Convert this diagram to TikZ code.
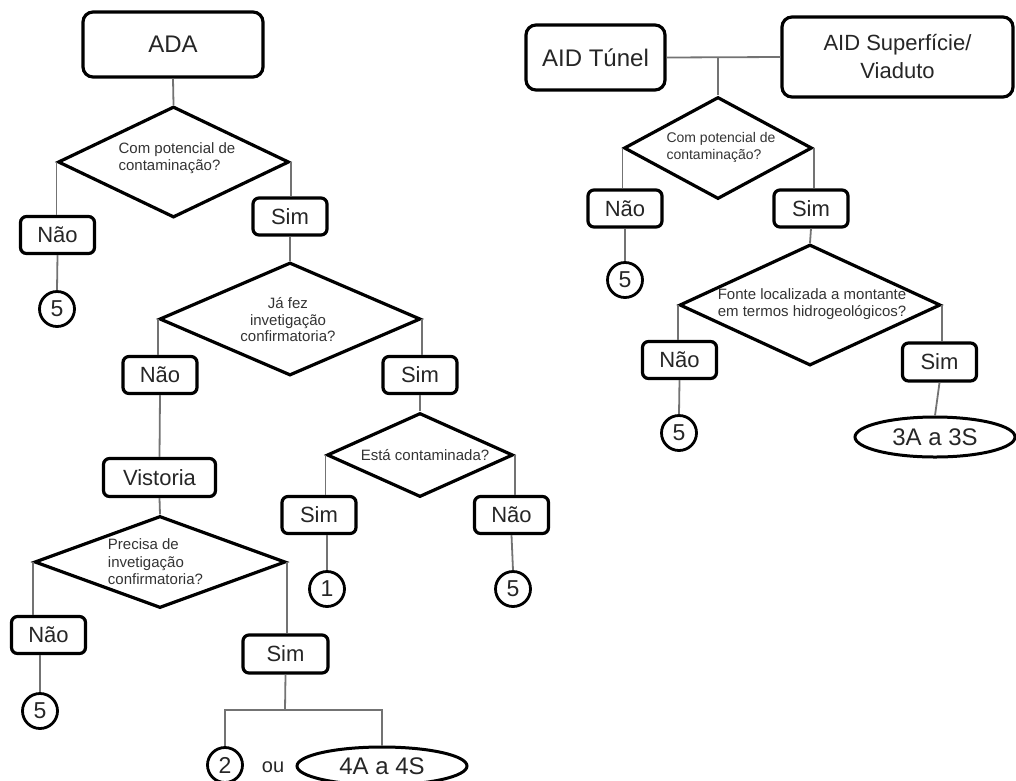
\documentclass[tikz,border=0pt]{standalone}
\usepackage{fontspec}
\setmainfont{Liberation Sans}
\usetikzlibrary{shapes.geometric}
\tikzset{
 box/.style={draw=black, line width=3.2, rounded corners=6, fill=white, inner sep=0, minimum width=74, minimum height=37, font=\fontsize{22}{24}\selectfont, text=black!85},
 bigbox/.style={box, rounded corners=10, font=\fontsize{24}{27}\selectfont},
 dia/.style={draw=black, line width=3.2, diamond, inner sep=0},
 dtext/.style={font=\fontsize{15}{16.5}\selectfont, text=black!80, inner sep=0},
 num/.style={draw=black, circle, line width=2.8, minimum size=35, inner sep=0, font=\fontsize{23}{25}\selectfont, text=black!85},
 oval/.style={draw=black, ellipse, line width=3, inner sep=0, font=\fontsize{24}{27}\selectfont, text=black!85},
 con/.style={draw=black!55, line width=1.8},
}
\begin{document}
\begin{tikzpicture}[x=1pt,y=-1pt]
\useasboundingbox (0,0) rectangle (1016,780);
% ---- left tree (ADA)
\node[bigbox, minimum width=180, minimum height=65] (ada) at (173,44.5) {ADA};
\node[dia, minimum width=231, minimum height=111] (d1) at (173.5,162) {};
\node[dtext, align=left] (d1t) at (177,158) {Com potencial de\\contaminação?};
\node[box] (n1) at (57.5,235) {Não};
\node[box] (s1) at (290,216.5) {Sim};
\node[num] (c1) at (57,309) {5};
\node[dia, minimum width=261, minimum height=113] (d2) at (290,319) {};
\node[dtext, align=center] (d2t) at (288,320) {Já fez\\invetigação\\confirmatoria?};
\node[box] (n2) at (160,375) {Não};
\node[box] (s2) at (420,375) {Sim};
\node[box, minimum width=112, minimum height=38] (vi) at (159.5,477.5) {Vistoria};
\node[dia, minimum width=186, minimum height=84] (d3) at (420,455) {};
\node[dtext] (d3t) at (425,455) {Está contaminada?};
\node[box] (s3) at (319,515) {Sim};
\node[box] (n3) at (511.5,515) {Não};
\node[num] (c2) at (327,589) {1};
\node[num] (c3) at (513,589) {5};
\node[dia, minimum width=251, minimum height=92] (d4) at (160,562) {};
\node[dtext, align=left, font=\fontsize{15}{17.5}\selectfont] (d4t) at (155.5,562) {Precisa de\\invetigação\\confirmatoria?};
\node[box] (n4) at (48.5,635) {Não};
\node[num] (c4) at (40,711) {5};
\node[box, minimum width=85, minimum height=38] (s4) at (285.5,654) {Sim};
\coordinate (j4) at (285,710);
\node[num] (c5) at (225,765) {2};
\node[font=\fontsize{20}{22}\selectfont, text=black!85] (ou) at (273,767) {ou};
\node[oval, minimum width=170, minimum height=38] (e1) at (382,766) {4A a 4S};
\draw[con] (ada.south) -- (d1.north);
\draw[con] (d1.west) -- (d1.west |- n1.north);
\draw[con] (d1.east) -- (d1.east |- s1.north);
\draw[con] (n1.south) -- (c1.north);
\draw[con] (s1.south) -- (d2.north);
\draw[con] (d2.west) -- (d2.west |- n2.north);
\draw[con] (d2.east) -- (d2.east |- s2.north);
\draw[con] (n2.south) -- (vi.north);
\draw[con] (s2.south) -- (d3.north);
\draw[con] (d3.west) -- (d3.west |- s3.north);
\draw[con] (d3.east) -- (d3.east |- n3.north);
\draw[con] (c2.north |- s3.south) -- (c2.north);
\draw[con] (n3.south) -- (c3.north);
\draw[con] (vi.south) -- (d4.north);
\draw[con] (d4.west) -- (d4.west |- n4.north);
\draw[con] (d4.east) -- (d4.east |- s4.north);
\draw[con] (c4.north |- n4.south) -- (c4.north);
\draw[con] (s4.south) -- (j4);
\draw[con] (c5.north) -- (c5.north |- j4) -- (e1.north |- j4) -- (e1.north);
% ---- right tree (AID)
\node[bigbox, minimum width=139, minimum height=65] (tu) at (595.5,57.5) {AID Túnel};
\node[bigbox, minimum width=231, minimum height=80, align=center, font=\fontsize{22}{28}\selectfont] (sv) at (897.5,57) {AID Superfície/\\Viaduto};
\coordinate (jr) at (718,57);
\node[dia, minimum width=188, minimum height=102] (r1) at (718,148) {};
\node[dtext, align=left, font=\fontsize{14}{17}\selectfont] (r1t) at (721,147) {Com potencial de\\contaminação?};
\node[box] (rn1) at (625,208.5) {Não};
\node[box] (rs1) at (811,208.5) {Sim};
\node[num] (rc1) at (625,280) {5};
\node[dia, minimum width=261, minimum height=121] (r2) at (810,305) {};
\node[dtext, align=center, font=\fontsize{15}{17}\selectfont] (r2t) at (812,304.5) {Fonte localizada a montante\\em termos hidrogeológicos?};
\node[box] (rn2) at (679.5,360) {Não};
\node[box, minimum height=38] (rs2) at (939.5,362) {Sim};
\node[num] (rc2) at (679,433) {5};
\node[oval, minimum width=160, minimum height=40] (er) at (935,437) {3A a 3S};
\draw[con] (tu.east) -- (sv.west);
\draw[con] (jr) -- (r1.north);
\draw[con] (r1.west) -- (r1.west |- rn1.north);
\draw[con] (r1.east) -- (r1.east |- rs1.north);
\draw[con] (rn1.south) -- (rc1.north);
\draw[con] (rs1.south) -- (r2.north);
\draw[con] (r2.west) -- (r2.west |- rn2.north);
\draw[con] (r2.east) -- (r2.east |- rs2.north);
\draw[con] (rn2.south) -- (rc2.north);
\draw[con] (rs2.south) -- (er.north);
\end{tikzpicture}
\end{document}
